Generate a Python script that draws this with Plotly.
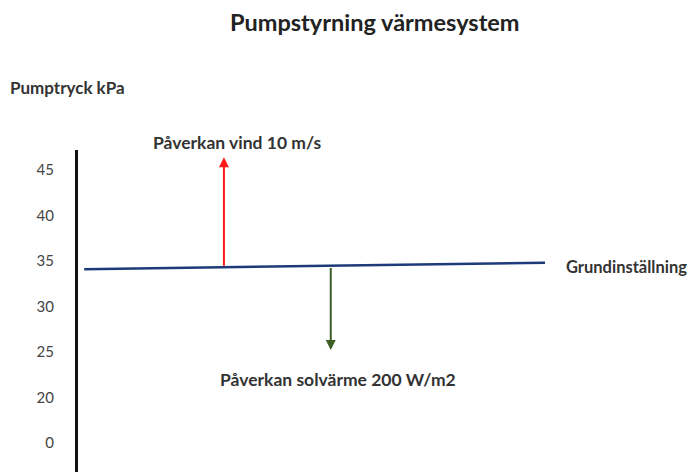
import plotly.graph_objects as go

# ---- data ----
tick_positions = [45, 40, 35, 30, 25, 20, 15]
tick_labels = ["45", "40", "35", "30", "25", "20", "0"]

baseline_x = [1, 75.2]
baseline_y = [34.1, 34.8]
baseline_label = "Grundinställning"

wind_x = 23.5
wind_from = 34.3
wind_to = 46.4
wind_label = "Påverkan vind 10 m/s"

sun_x = 40.7
sun_from = 34.4
sun_to = 25.2
sun_label = "Påverkan solvärme 200 W/m2"

title_text = "Pumpstyrning värmesystem"
ylabel_text = "Pumptryck kPa"

FONT = "Lato"
TXT = "#333333"

fig = go.Figure()
fig.add_trace(go.Scatter(
    x=baseline_x, y=baseline_y, mode="lines",
    line=dict(color="#1f3a7a", width=2.5),
    hoverinfo="skip", showlegend=False,
))

# arrows
fig.add_annotation(x=wind_x, y=wind_to, ax=wind_x, ay=wind_from,
                   xref="x", yref="y", axref="x", ayref="y",
                   showarrow=True, arrowhead=2, arrowsize=1, arrowwidth=2,
                   arrowcolor="#ff1a1a", text="")
fig.add_annotation(x=sun_x, y=sun_to, ax=sun_x, ay=sun_from,
                   xref="x", yref="y", axref="x", ayref="y",
                   showarrow=True, arrowhead=2, arrowsize=1, arrowwidth=2,
                   arrowcolor="#3a5e24", text="")

# labels
def label(x, y, text, size, xref="paper", yref="paper", xanchor="center", color=TXT):
    fig.add_annotation(x=x, y=y, xref=xref, yref=yref, text="<b>" + text + "</b>",
                       xanchor=xanchor, yanchor="middle", showarrow=False,
                       font=dict(family=FONT, size=size, color=color))

label(0.256, 1.022, wind_label, 17.5)
label(41.9, 22.0, sun_label, 17.5, xref="x", yref="y")
label(88.3, 34.3, baseline_label, 16.5, xref="x", yref="y")
label(-0.112, 1.193, ylabel_text, 17, xanchor="left")
label(0.479, 1.398, title_text, 23.5, color="#222222")

fig.update_layout(
    width=699, height=472,
    margin=dict(l=70, r=8, t=142, b=8),
    paper_bgcolor="white", plot_bgcolor="white",
    showlegend=False,
    xaxis=dict(range=[0, 100], visible=False),
    yaxis=dict(range=[11.8, 47.2], tickvals=tick_positions, ticktext=tick_labels,
               showgrid=False, zeroline=False, showline=True, linecolor="#111111",
               linewidth=3, ticks="", ticklabelstandoff=18,
               tickfont=dict(family=FONT, size=15, color="#444444")),
    hovermode=False,
)

fig.write_html("out.html")
